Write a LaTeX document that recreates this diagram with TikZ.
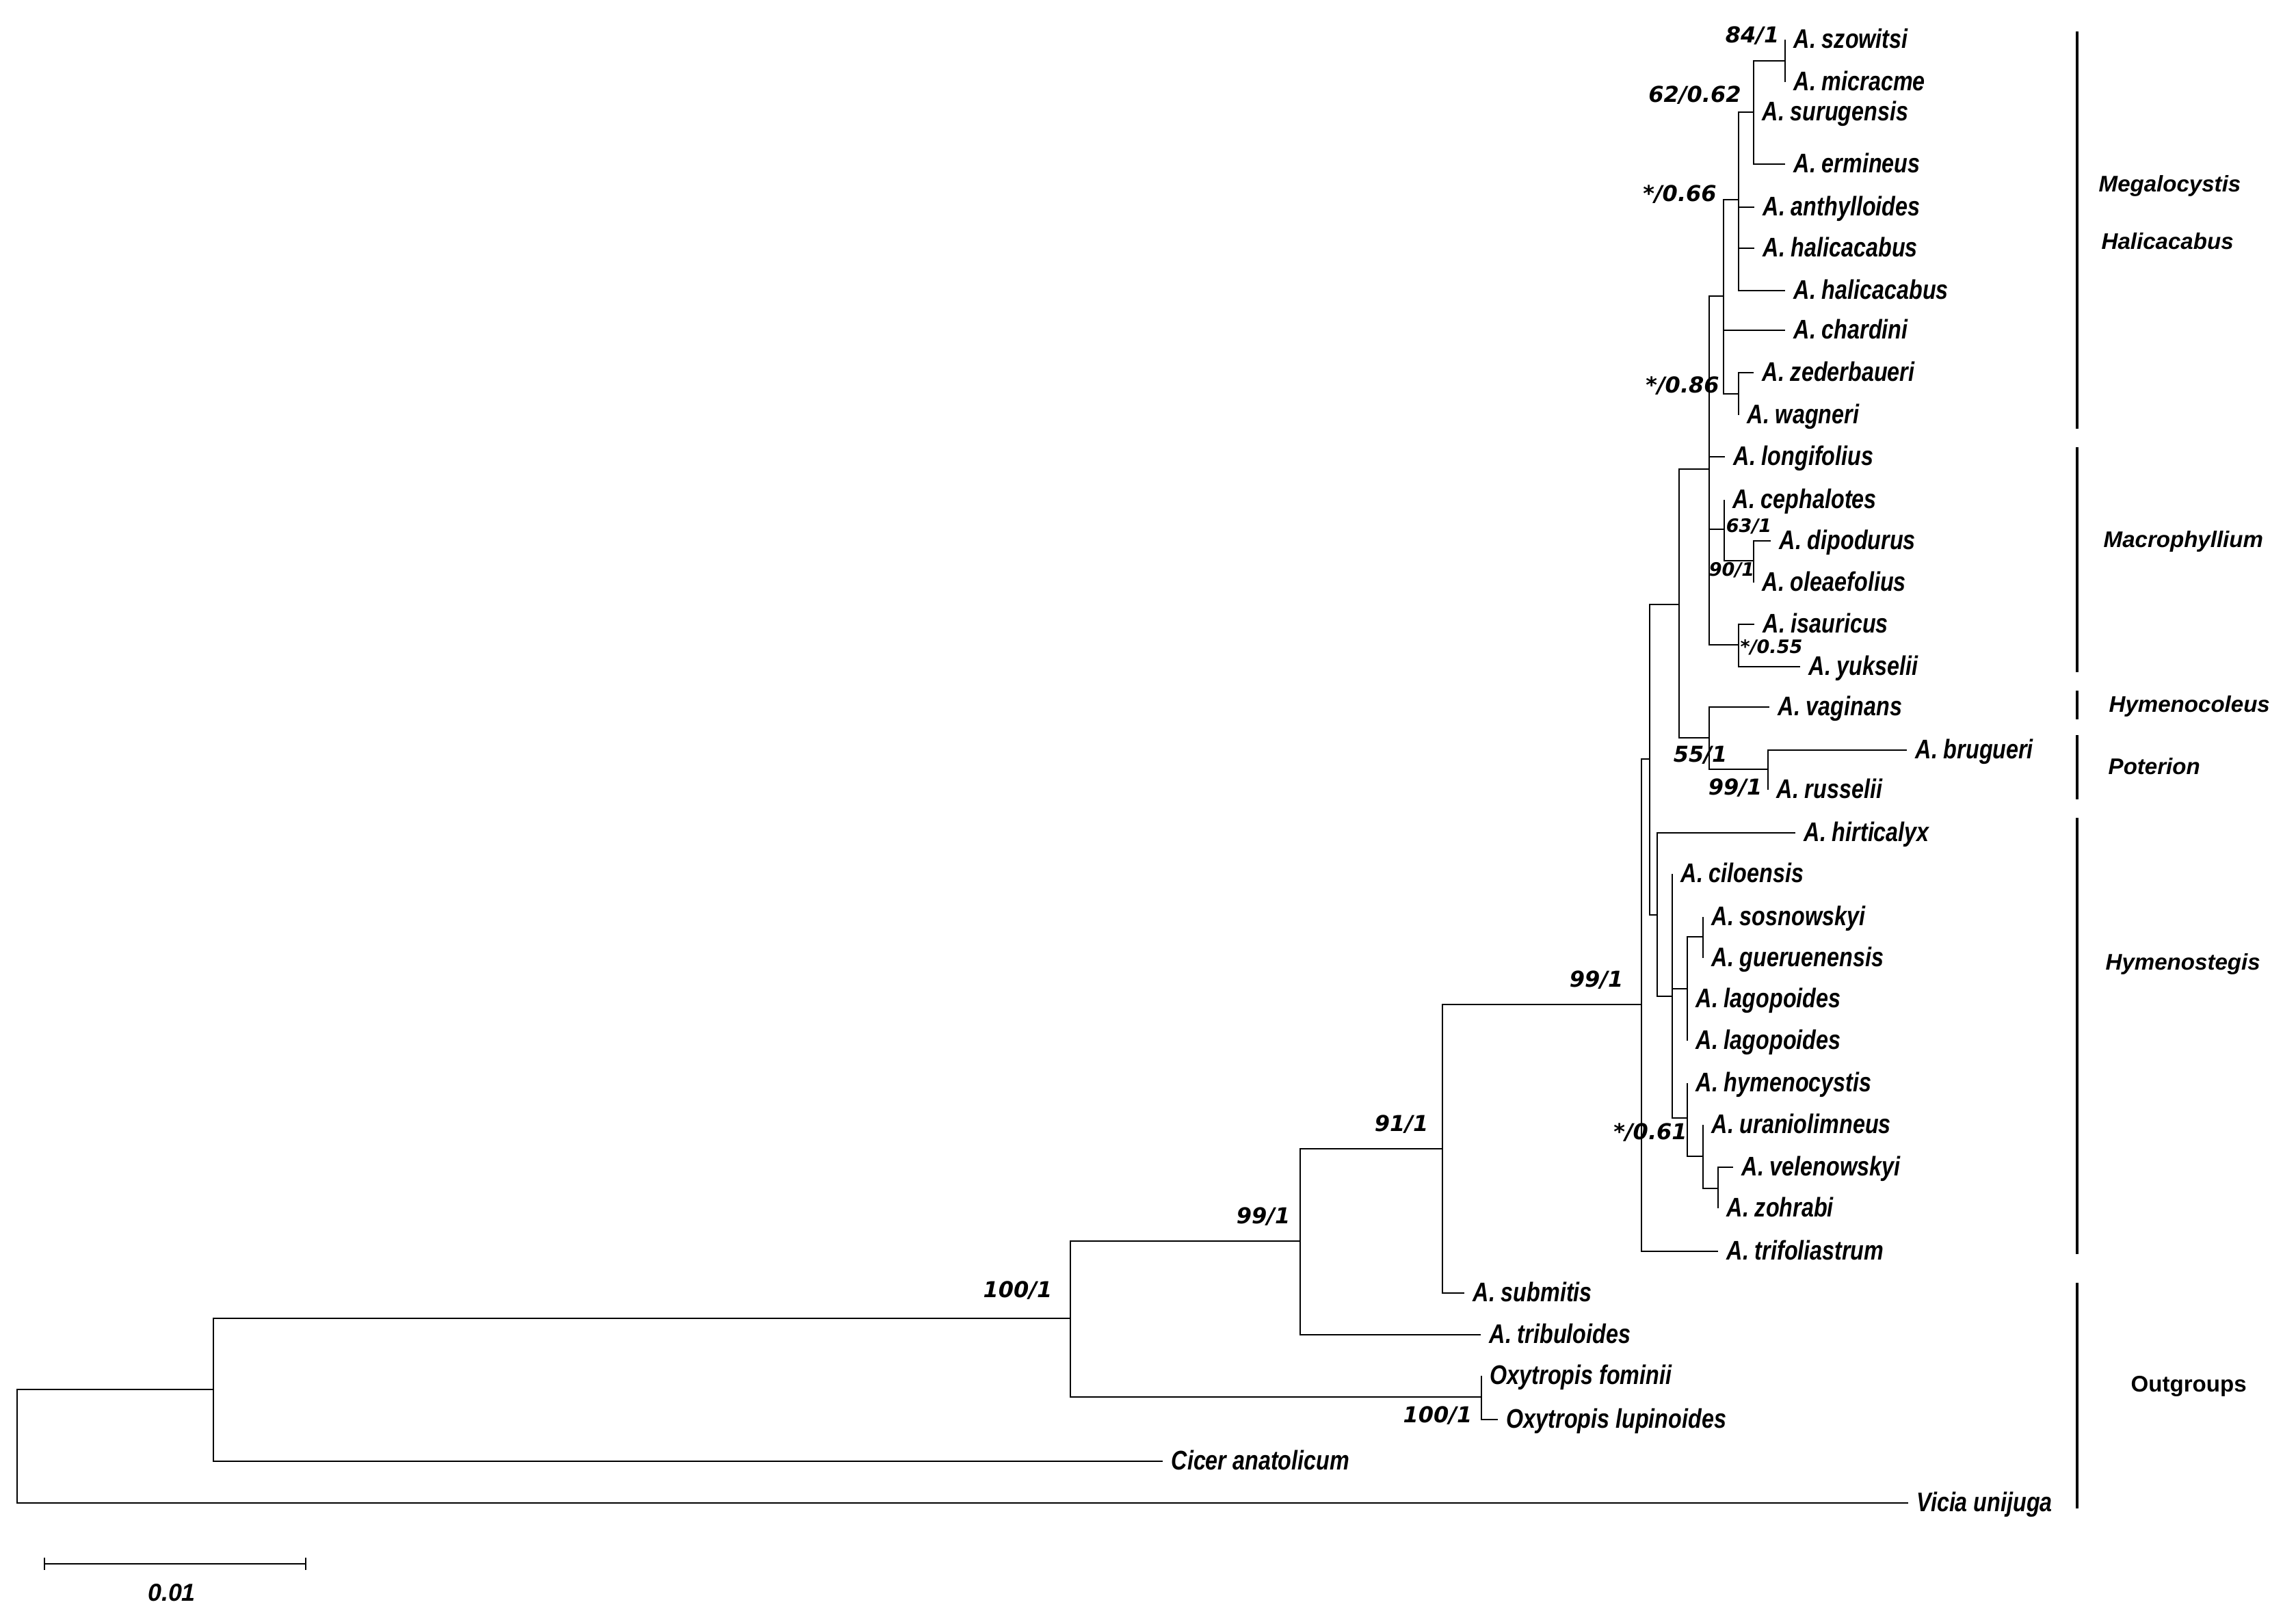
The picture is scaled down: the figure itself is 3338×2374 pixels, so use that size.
\documentclass[tikz,border=0pt]{standalone}
\usepackage{fontspec}
\setmainfont{Liberation Sans}
\newfontfamily\taxfont{Liberation Sans}[FakeStretch=0.82]
\newfontfamily\supfont{DejaVu Sans}
\usetikzlibrary{positioning}

\begin{document}
\begin{tikzpicture}[x=0.01cm, y=-0.01cm,
    branch/.style={line width=0.028cm},
    groupbar/.style={line width=0.038cm},
    taxon/.style={anchor=base west, inner sep=0pt, xshift=0.12cm, yshift=-0.12cm,
        font=\taxfont\fontsize{11.2}{13}\selectfont\bfseries\itshape},
    support/.style={inner sep=0pt, font=\supfont\fontsize{9.1}{11}\selectfont\bfseries\itshape},
    smallsupport/.style={support, font=\supfont\fontsize{7.7}{9}\selectfont\bfseries\itshape},
    group/.style={anchor=west, inner sep=0pt, font=\fontsize{9.4}{11}\selectfont\bfseries\itshape}]
\useasboundingbox (0,0) rectangle (3338,2374);

% Tips
\foreach \n/\x/\y/\t in {
    szow/2610/58/A. szowitsi, micr/2610/120/A. micracme,
    suru/2564/164/A. surugensis, ermi/2610/240/A. ermineus,
    anth/2565/303/A. anthylloides, hali/2565/363/A. halicacabus,
    halii/2610/425/A. halicacabus, char/2610/483/A. chardini,
    zede/2564/545/A. zederbaueri, wagn/2542/607/A. wagneri,
    long/2522/668/A. longifolius, ceph/2521/731/A. cephalotes,
    dipo/2589/791/A. dipodurus, olea/2564/852/A. oleaefolius,
    isau/2565/913/A. isauricus, yuks/2632/975/A. yukselii,
    vagi/2587/1034/A. vaginans, brug/2788/1097/A. brugueri,
    russ/2585/1155/A. russelii, hirt/2625/1218/A. hirticalyx,
    cilo/2445/1278/A. ciloensis, sosn/2490/1341/A. sosnowskyi,
    guer/2490/1401/A. gueruenensis, lago/2467/1461/A. lagopoides,
    lagoi/2467/1522/A. lagopoides, hyme/2467/1584/A. hymenocystis,
    uran/2490/1645/A. uraniolimneus, vele/2534/1707/A. velenowskyi,
    zohr/2512/1767/A. zohrabi, trif/2512/1830/A. trifoliastrum,
    subm/2141/1891/A. submitis, trib/2165/1952/A. tribuloides,
    fomi/2166/2012/Oxytropis fominii, lupi/2190/2076/Oxytropis lupinoides,
    cice/1700/2137/Cicer anatolicum, vici/2790/2198/Vicia unijuga} {
    \coordinate (\n) at (\x,\y);
    \node[taxon] (\n-lab) at (\n) {\t};
}

% Internal nodes
\foreach \n/\x/\y in {
    nSM/2610/89, nA/2564/164, nB/2542/292, nD/2542/576, nC/2520/433,
    nG/2564/820, nF/2521/774, nH/2542/943, nE/2499/686, nK/2585/1125,
    nJ/2499/1079, nI/2455/884, nP/2490/1370, nO/2467/1446, nS/2512/1738,
    nR/2490/1691, nQ/2467/1635, nN/2445/1457, nM/2423/1338, nL/2412/1110,
    nT/2400/1469, nU/2109/1680, nV/1901/1815, nOx/2166/2043, nW/1565/1928,
    nX/312/2032, root/25/2115} {
    \coordinate (\n) at (\x,\y);
}

% Branches
\foreach \p/\c in {
    nSM/szow, nSM/micr, nA/nSM, nA/suru, nA/ermi,
    nB/nA, nB/anth, nB/hali, nB/halii,
    nC/nB, nC/char, nC/nD, nD/zede, nD/wagn,
    nE/nC, nE/long, nE/nF, nE/nH, nF/ceph, nF/nG, nG/dipo, nG/olea,
    nH/isau, nH/yuks, nI/nE, nI/nJ, nJ/vagi, nJ/nK, nK/brug, nK/russ,
    nL/nI, nL/nM, nM/hirt, nM/nN, nN/cilo, nN/nO, nN/nQ,
    nO/nP, nO/lago, nO/lagoi, nP/sosn, nP/guer,
    nQ/hyme, nQ/nR, nR/uran, nR/nS, nS/vele, nS/zohr,
    nT/nL, nT/trif, nU/nT, nU/subm, nV/nU, nV/trib,
    nW/nV, nW/nOx, nOx/fomi, nOx/lupi,
    nX/nW, nX/cice, root/nX, root/vici} {
    \draw[branch] (\p) |- (\c);
}

% Support values
\node[support] (s1) at (2562,52) {84/1};
\node[support] (s2) at (2478,139) {62/0.62};
\node[support] (s3) at (2456,284) {*/0.66};
\node[support] (s4) at (2460,564) {*/0.86};
\node[smallsupport] (s5) at (2557,770) {63/1};
\node[smallsupport] (s6) at (2532,834) {90/1};
\node[smallsupport] (s7) at (2590,947) {*/0.55};
\node[support] (s8) at (2486,1104) {55/1};
\node[support] (s9) at (2537,1152) {99/1};
\node[support] (s10) at (2334,1433) {99/1};
\node[support] (s11) at (2413,1656) {*/0.61};
\node[support] (s12) at (2049,1644) {91/1};
\node[support] (s13) at (1847,1779) {99/1};
\node[support] (s14) at (1488,1887) {100/1};
\node[support] (s15) at (2102,2070) {100/1};

% Groups
\foreach \n/\a/\b in {mega/46/627, macr/654/983, hcol/1010/1052,
    pote/1075/1169, hste/1196/1834, outg/1876/2206} {
    \coordinate (\n-top) at (3037,\a);
    \coordinate (\n-bot) at (3037,\b);
    \draw[groupbar] (\n-top) -- (\n-bot);
}
\node[group] (g1) at (3068,272) {Megalocystis};
\node[group] (g2) at (3072,353) {Halicacabus};
\node[group] (g3) at (3075,792) {Macrophyllium};
\node[group] (g4) at (3083,1033) {Hymenocoleus};
\node[group] (g5) at (3082,1121) {Poterion};
\node[group] (g6) at (3078,1410) {Hymenostegis};
\node[group, font=\fontsize{9.4}{11}\selectfont\bfseries] (g7) at (3115,2027) {Outgroups};

% Scale bar
\coordinate (sbL) at (65,2287);
\coordinate (sbR) at (447,2287);
\draw[branch] (sbL) -- (sbR);
\draw[branch] (sbL) ++(0,-9) -- ++(0,18);
\draw[branch] (sbR) ++(0,-9) -- ++(0,18);
\node[inner sep=0pt, font=\fontsize{10.2}{12}\selectfont\bfseries\itshape] (sb-lab) at (251,2329) {0.01};
\end{tikzpicture}
\end{document}
